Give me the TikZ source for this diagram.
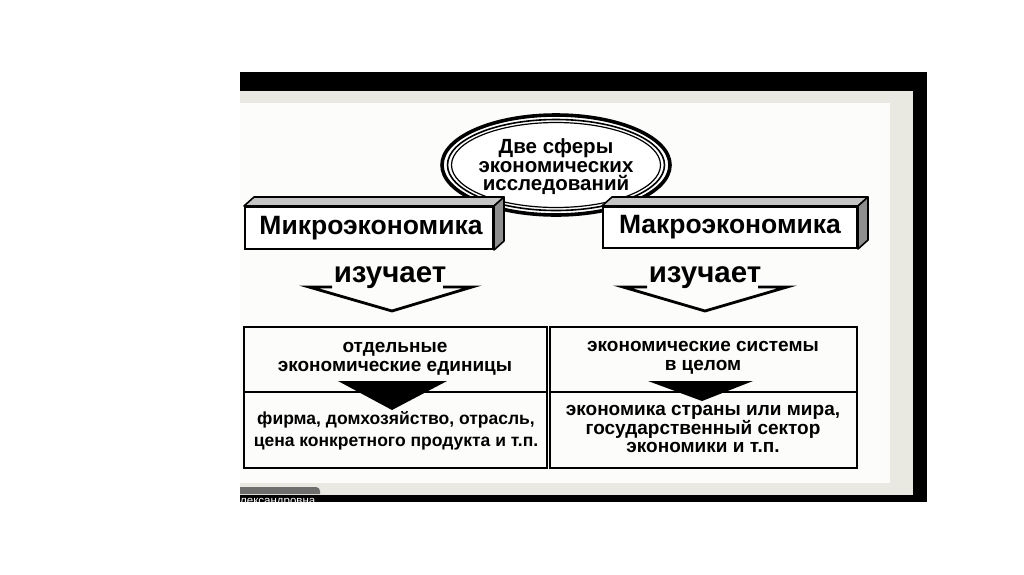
\documentclass[tikz,border=0pt]{standalone}
\usepackage{fontspec}
\setmainfont{Liberation Sans}
\usetikzlibrary{calc,shapes.geometric}
\definecolor{beigeband}{HTML}{E9E9E1}
\definecolor{panel}{HTML}{FCFCFA}
\definecolor{tabgray}{HTML}{6E6E6E}
\definecolor{topface}{HTML}{C4C4C4}
\definecolor{sideface}{HTML}{8E8E8E}
\tikzset{
  frontbox/.style={draw=black, line width=2pt, fill=white, inner sep=0pt, font=\bfseries\fontsize{26.5}{30}\selectfont},
  facetop/.style={draw=black, line width=1.6pt, fill=topface, line join=round},
  faceside/.style={draw=black, line width=1.6pt, fill=sideface, line join=round},
  studies/.style={inner sep=0pt, anchor=base, font=\bfseries\fontsize{29.5}{32}\selectfont},
  hollowarrow/.style={draw=black, line width=2.8pt, line join=miter},
  cellbox/.style={draw=black, line width=2pt},
  celltext/.style={align=center, inner sep=0pt, font=\bfseries\fontsize{19}{19}\selectfont},
  smalltext/.style={align=center, inner sep=0pt, font=\bfseries\fontsize{17.5}{22}\selectfont},
  righttext/.style={align=center, inner sep=0pt, font=\bfseries\fontsize{19}{18.5}\selectfont},
  solidarrow/.style={fill=black},
  ringline/.style={draw=black},
}
\begin{document}
\begin{tikzpicture}[x=1pt,y=-1pt]
\useasboundingbox (0,0) rectangle (1024,574);
\fill[white] (0,0) rectangle (1024,574);
% frame
\fill[black] (240,72) rectangle (927,502);
\fill[beigeband] (240,91) rectangle (913,495);
\fill[panel] (240,103) rectangle (890,483);
% bottom-left tab
\fill[tabgray] (240,487) -- (316,487) to[out=0,in=90] (320,491) -- (320,494) -- (240,494) -- cycle;
\begin{scope}
\clip (240,494) rectangle (340,502);
\node[anchor=base west, inner sep=0pt, text=white, font=\fontsize{11.5}{12}\selectfont] (tabtext) at (240,504) {лександровна};
\end{scope}
% ellipse
\coordinate (ec) at (556,165);
\fill[white] (ec) ellipse [x radius=114, y radius=50];
\draw[ringline, line width=3.6pt] (ec) ellipse [x radius=114, y radius=50];
\draw[ringline, line width=1.6pt] (ec) ellipse [x radius=108.5, y radius=45.5];
\draw[ringline, line width=1.2pt] (ec) ellipse [x radius=104.5, y radius=42.5];
\node[align=center, inner sep=0pt, font=\bfseries\fontsize{20.5}{18.5}\selectfont] (sphere) at (556,167) {Две сферы\\экономических\\исследований};
% left 3D box
\node[frontbox, minimum width=248pt, minimum height=42pt] (micro) at (369,228) {\hspace*{4pt}Микроэкономика};
\draw[facetop] (micro.north west) -- ++(10,-9) -- ($(micro.north east)+(10,-9)$) -- (micro.north east) -- cycle;
\draw[faceside] (micro.north east) -- ++(10,-9) -- ($(micro.south east)+(10,-9)$) -- (micro.south east) -- cycle;
% right 3D box
\node[frontbox, minimum width=254pt, minimum height=41pt] (macro) at (730,227.5) {Макроэкономика};
\draw[facetop] (macro.north west) -- ++(10,-9) -- ($(macro.north east)+(10,-9)$) -- (macro.north east) -- cycle;
\draw[faceside] (macro.north east) -- ++(10,-9) -- ($(macro.south east)+(10,-9)$) -- (macro.south east) -- cycle;
% "изучает" hollow arrows
\node[studies] (st1) at (390,282) {изучает};
\draw[hollowarrow] (332,287) -- (309,287) -- (392,311) -- (472,287) -- (443,287);
\node[studies] (st2) at (705,282) {изучает};
\draw[hollowarrow] (647,287) -- (623,287) -- (705,311) -- (787,287) -- (758,287);
% left table
\draw[cellbox] (244,327) rectangle (547,468);
\draw[cellbox] (244,392) -- (547,392);
\node[celltext] (lt) at (395,359) {отдельные\\экономические единицы};
\fill[solidarrow] (338,381) -- (447,381) -- (392,410) -- cycle;
\node[smalltext] (lb) at (396,431) {фирма, домхозяйство, отрасль,\\цена конкретного продукта и т.п.};
% right table
\draw[cellbox] (550,327) rectangle (857,468);
\draw[cellbox] (550,392) -- (857,392);
\node[celltext] (rt) at (703,358) {экономические системы\\в целом};
\fill[solidarrow] (648,381) -- (753,381) -- (702,401) -- cycle;
\node[righttext] (rb) at (703,429) {экономика страны или мира,\\государственный сектор\\экономики и т.п.};
\end{tikzpicture}
\end{document}
